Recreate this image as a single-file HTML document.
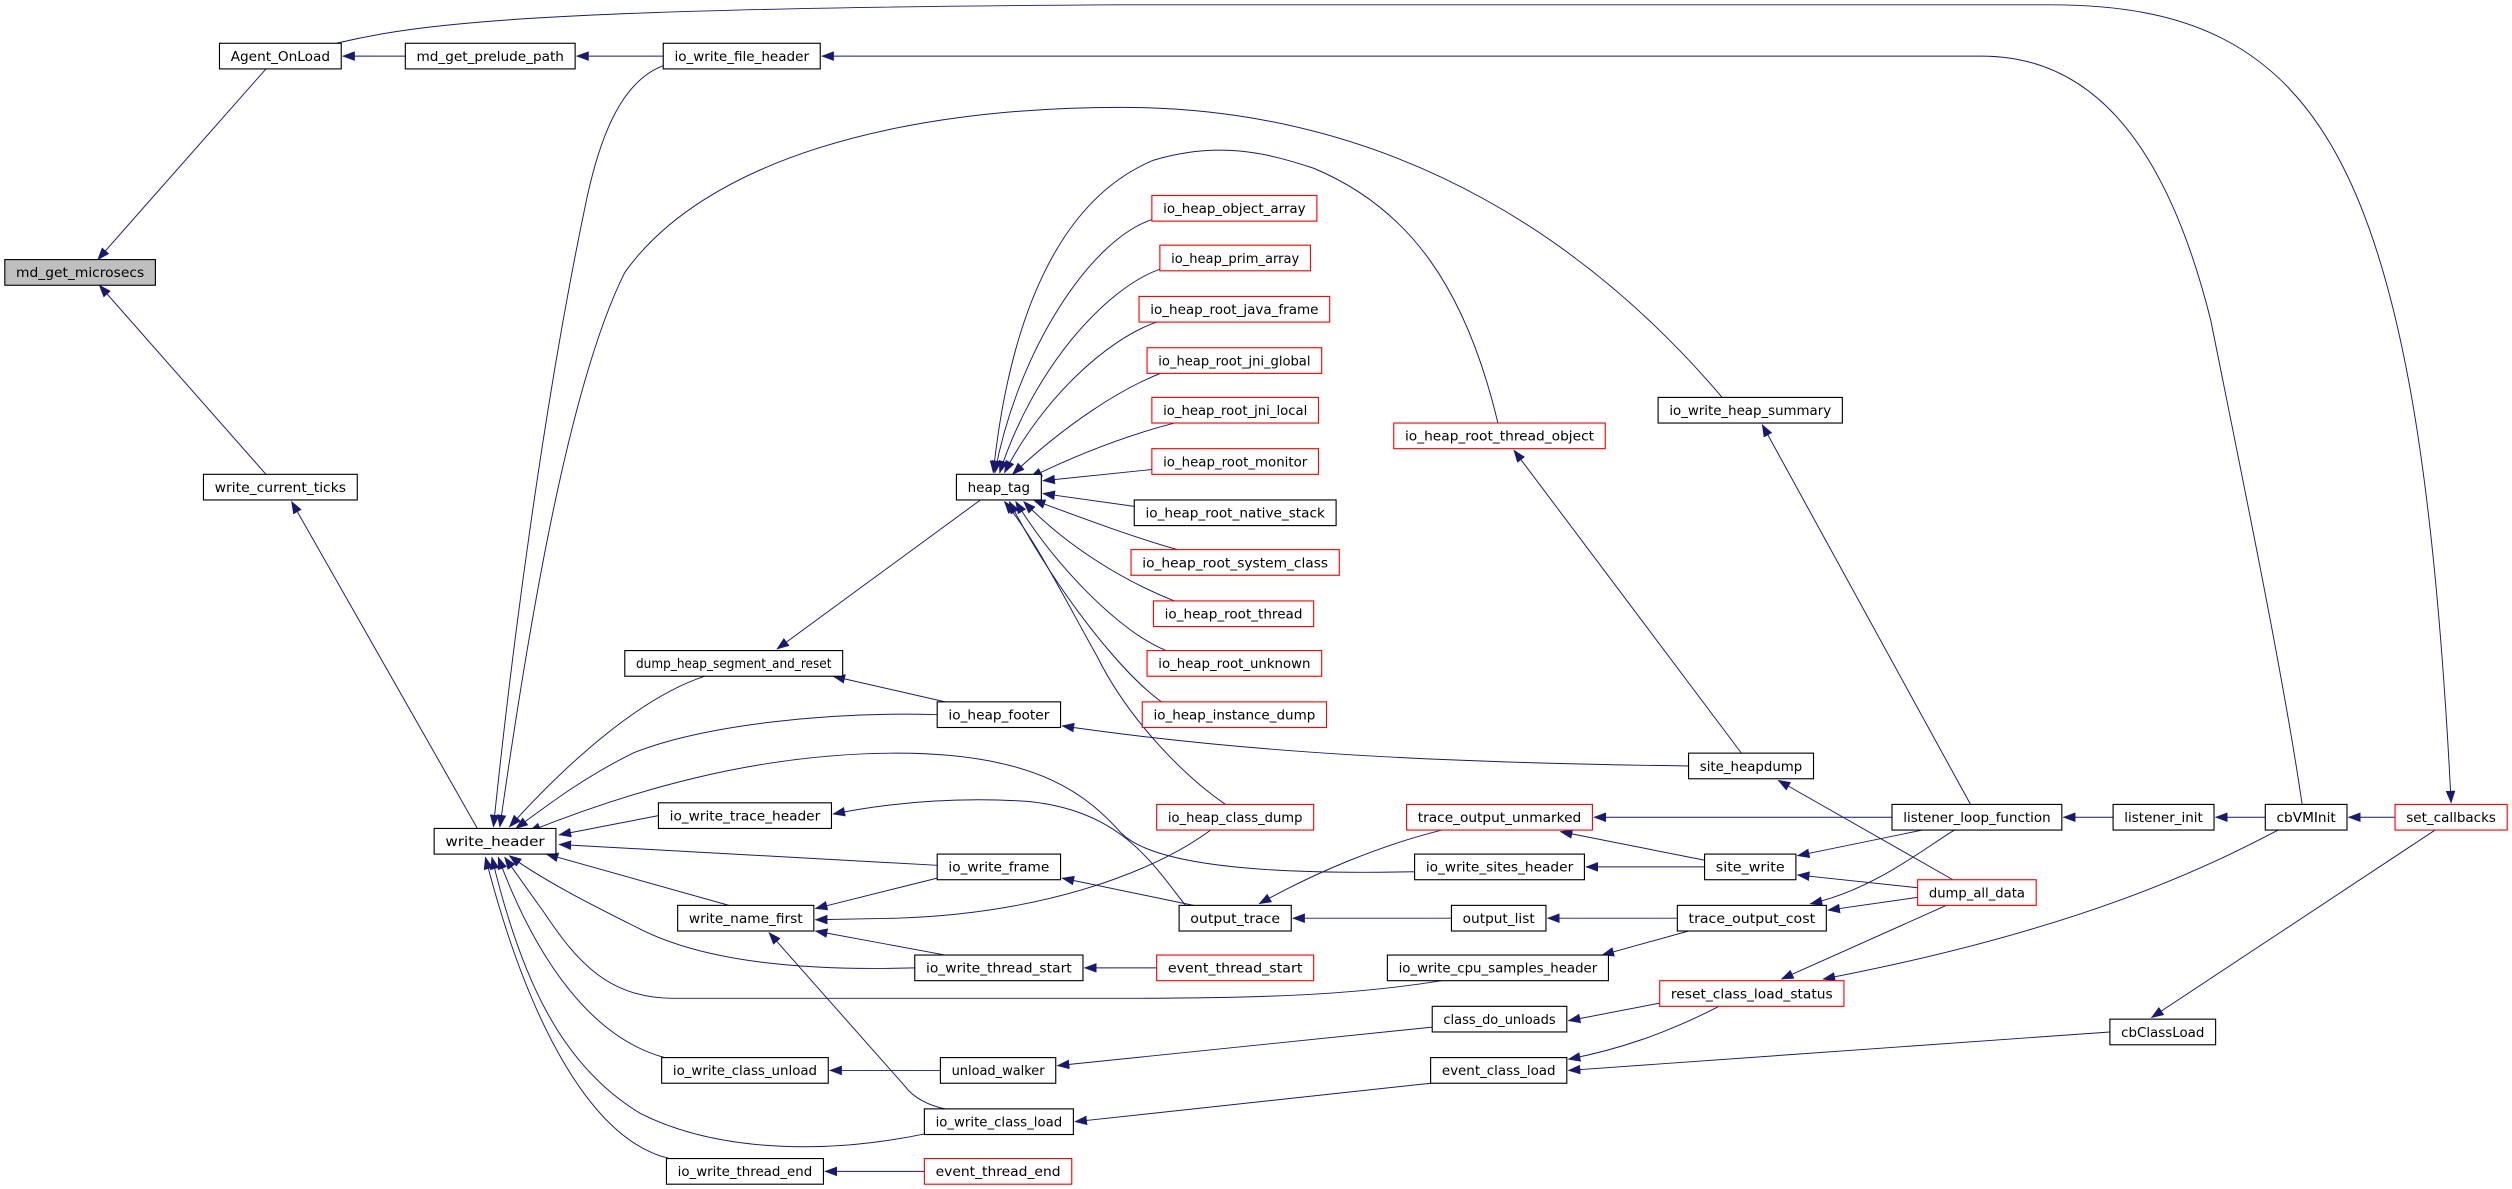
<!DOCTYPE html>
<html><head><meta charset="utf-8"><style>
html,body{margin:0;padding:0;background:#fff;}
svg{display:block;}
text{font-family:"DejaVu Sans","Liberation Sans",sans-serif;font-size:8.3px;text-anchor:middle;fill:#000;}
.n{fill:#fff;stroke:#000;stroke-width:0.7;}
.r{fill:#fff;stroke:#f00;stroke-width:0.7;}
.g{fill:#bfbfbf;stroke:#000;stroke-width:0.7;}
path.e{fill:none;stroke:#191970;stroke-width:0.6;marker-end:url(#a);}
</style></head><body>
<svg width="2512" height="1189" viewBox="0 0 1568 742" preserveAspectRatio="none" xmlns="http://www.w3.org/2000/svg">
<defs><marker id="a" markerUnits="userSpaceOnUse" markerWidth="8" markerHeight="6" refX="7.5" refY="3" orient="auto"><path d="M0,0 L8,3 L0,6 z" fill="#191970"/></marker></defs>

<!-- edges -->
<path class="e" d="M166,43 L61,162"/>
<path class="e" d="M166,296 L62,178"/>
<path class="e" d="M253,35 L214,35"/>
<path class="e" d="M414,35 L360,35"/>
<path class="e" d="M210,27 C260,15 330,5 700,3 L1280,3 C1450,3 1510,100 1530,501"/>
<path class="e" d="M1437,502 C1425,420 1400,300 1380,200 C1350,80 1300,35 1237,35 L513,35"/>
<path class="e" d="M414,41 C390,50 375,80 365,130 C340,250 320,400 308,516"/>
<path class="e" d="M1075,248 C1000,160 880,67 700,67 C560,67 440,100 390,170 C355,240 330,390 312,516"/>
<path class="e" d="M935,264 C915,180 880,130 820,105 C790,95 760,88 720,100 C660,125 630,200 620,295"/>
<path class="e" d="M719,137 C680,150 635,220 621,295"/>
<path class="e" d="M724,168 C690,180 645,230 624,295"/>
<path class="e" d="M722,201 C690,212 650,250 627,295"/>
<path class="e" d="M727,232 C700,242 665,265 632,296"/>
<path class="e" d="M733,264 C710,270 680,280 643,298"/>
<path class="e" d="M719,293 L651,300"/>
<path class="e" d="M708,316 L651,308"/>
<path class="e" d="M735,343 C710,336 680,325 645,312"/>
<path class="e" d="M733,375 C700,362 665,340 639,313"/>
<path class="e" d="M728,406 C700,395 660,355 634,313"/>
<path class="e" d="M725,438 C700,420 660,370 630,313"/>
<path class="e" d="M765,502 C740,485 705,450 685,410 C660,365 645,335 627,313"/>
<path class="e" d="M612,312 L485,405"/>
<path class="e" d="M590,438 L520,422"/>
<path class="e" d="M440,422 C400,435 355,475 318,516"/>
<path class="e" d="M585,446 C520,444 440,452 395,470 C365,485 345,500 322,517"/>
<path class="e" d="M883,544 C790,546 720,540 700,520 C680,498 650,470 560,470 C470,470 390,495 330,519"/>
<path class="e" d="M411,509 L349,521"/>
<path class="e" d="M585,540 L349,527"/>
<path class="e" d="M455,565 L341,533"/>
<path class="e" d="M571,604 C500,606 440,600 400,580 C370,565 340,550 318,534"/>
<path class="e" d="M900,612 C850,620 800,623 700,623 L420,623 C380,623 360,600 340,570 L315,535"/>
<path class="e" d="M415,660 C370,648 335,600 311,535"/>
<path class="e" d="M580,707 C520,720 450,720 400,695 C350,665 325,610 307,535"/>
<path class="e" d="M418,723 C370,712 330,640 303,535"/>
<path class="e" d="M298,517 L182,313"/>
<path class="e" d="M740,565 C720,540 700,505 640,500 C590,497 550,502 520,508"/>
<path class="e" d="M745,565 L663,548"/>
<path class="e" d="M585,548 L509,567"/>
<path class="e" d="M757,517 C720,545 650,570 560,573 L509,574"/>
<path class="e" d="M590,596 L509,581"/>
<path class="e" d="M590,692 C580,690 570,685 565,678 L480,582"/>
<path class="e" d="M722,604 L677,604"/>
<path class="e" d="M587,668 L518,668"/>
<path class="e" d="M893,676 L671,700"/>
<path class="e" d="M577,731 L515,731"/>
<path class="e" d="M894,641 L660,665"/>
<path class="e" d="M1054,478 C900,476 780,470 663,453"/>
<path class="e" d="M1087,470 L945,281"/>
<path class="e" d="M1230,502 L1100,265"/>
<path class="e" d="M1181,510 L995,510"/>
<path class="e" d="M900,518 C860,528 820,545 786,564"/>
<path class="e" d="M906,573 L807,573"/>
<path class="e" d="M1065,537 L974,519"/>
<path class="e" d="M1064,541 L990,541"/>
<path class="e" d="M1200,518 L1122,534"/>
<path class="e" d="M1197,554 L1122,546"/>
<path class="e" d="M1219,549 L1110,487"/>
<path class="e" d="M1220,518 C1200,530 1170,555 1130,564"/>
<path class="e" d="M1197,560 L1141,568"/>
<path class="e" d="M1047,573 L966,573"/>
<path class="e" d="M1054,581 L1000,596"/>
<path class="e" d="M1215,565 L1112,611"/>
<path class="e" d="M1422,518 C1380,540 1300,580 1138,611"/>
<path class="e" d="M1036,626 L979,637"/>
<path class="e" d="M1073,628 C1040,645 1010,655 979,661"/>
<path class="e" d="M1317,644 L979,668"/>
<path class="e" d="M1319,510 L1288,510"/>
<path class="e" d="M1414,510 L1383,510"/>
<path class="e" d="M1495,510 L1466,510"/>
<path class="e" d="M1520,518 L1343,635"/>

<!-- nodes -->
<rect class="g" x="3" y="162" width="94" height="16"/><text x="50" y="173" textLength="80" lengthAdjust="spacingAndGlyphs">md_get_microsecs</text>
<rect class="n" x="137" y="27" width="76" height="16"/><text x="175" y="38" textLength="62" lengthAdjust="spacingAndGlyphs">Agent_OnLoad</text>
<rect class="n" x="253" y="27" width="106" height="16"/><text x="306" y="38" textLength="92" lengthAdjust="spacingAndGlyphs">md_get_prelude_path</text>
<rect class="n" x="414" y="27" width="98" height="16"/><text x="463" y="38" textLength="84" lengthAdjust="spacingAndGlyphs">io_write_file_header</text>
<rect class="n" x="127" y="296" width="96" height="16"/><text x="175" y="307" textLength="82" lengthAdjust="spacingAndGlyphs">write_current_ticks</text>
<rect class="n" x="271" y="517" width="76" height="16"/><text x="309" y="528" textLength="62" lengthAdjust="spacingAndGlyphs">write_header</text>
<rect class="n" x="390" y="406" width="136" height="16"/><text x="458" y="417" textLength="122" lengthAdjust="spacingAndGlyphs">dump_heap_segment_and_reset</text>
<rect class="n" x="411" y="501" width="108" height="16"/><text x="465" y="512" textLength="94" lengthAdjust="spacingAndGlyphs">io_write_trace_header</text>
<rect class="n" x="423" y="565" width="85" height="16"/><text x="465.5" y="576" textLength="71" lengthAdjust="spacingAndGlyphs">write_name_first</text>
<rect class="n" x="413" y="660" width="104" height="16"/><text x="465" y="671" textLength="90" lengthAdjust="spacingAndGlyphs">io_write_class_unload</text>
<rect class="n" x="416" y="723" width="98" height="16"/><text x="465" y="734" textLength="84" lengthAdjust="spacingAndGlyphs">io_write_thread_end</text>
<rect class="n" x="597" y="296" width="53" height="16"/><text x="623.5" y="307" textLength="39" lengthAdjust="spacingAndGlyphs">heap_tag</text>
<rect class="n" x="585" y="438" width="77" height="16"/><text x="623.5" y="449" textLength="63" lengthAdjust="spacingAndGlyphs">io_heap_footer</text>
<rect class="n" x="585" y="533" width="77" height="16"/><text x="623.5" y="544" textLength="63" lengthAdjust="spacingAndGlyphs">io_write_frame</text>
<rect class="n" x="571" y="596" width="105" height="16"/><text x="623.5" y="607" textLength="91" lengthAdjust="spacingAndGlyphs">io_write_thread_start</text>
<rect class="n" x="587" y="660" width="72" height="16"/><text x="623" y="671" textLength="58" lengthAdjust="spacingAndGlyphs">unload_walker</text>
<rect class="n" x="577" y="692" width="93" height="16"/><text x="623.5" y="703" textLength="79" lengthAdjust="spacingAndGlyphs">io_write_class_load</text>
<rect class="r" x="577" y="723" width="92" height="16"/><text x="623" y="734" textLength="78" lengthAdjust="spacingAndGlyphs">event_thread_end</text>
<rect class="r" x="719" y="122" width="103" height="16"/><text x="770.5" y="133" textLength="89" lengthAdjust="spacingAndGlyphs">io_heap_object_array</text>
<rect class="r" x="724" y="153" width="94" height="16"/><text x="771" y="164" textLength="80" lengthAdjust="spacingAndGlyphs">io_heap_prim_array</text>
<rect class="r" x="711" y="185" width="119" height="16"/><text x="770.5" y="196" textLength="105" lengthAdjust="spacingAndGlyphs">io_heap_root_java_frame</text>
<rect class="r" x="716" y="217" width="109" height="16"/><text x="770.5" y="228" textLength="95" lengthAdjust="spacingAndGlyphs">io_heap_root_jni_global</text>
<rect class="r" x="719" y="248" width="104" height="16"/><text x="771" y="259" textLength="90" lengthAdjust="spacingAndGlyphs">io_heap_root_jni_local</text>
<rect class="r" x="719" y="280" width="104" height="16"/><text x="771" y="291" textLength="90" lengthAdjust="spacingAndGlyphs">io_heap_root_monitor</text>
<rect class="n" x="708" y="312" width="126" height="16"/><text x="771" y="323" textLength="112" lengthAdjust="spacingAndGlyphs">io_heap_root_native_stack</text>
<rect class="r" x="706" y="343" width="130" height="16"/><text x="771" y="354" textLength="116" lengthAdjust="spacingAndGlyphs">io_heap_root_system_class</text>
<rect class="r" x="720" y="375" width="100" height="16"/><text x="770" y="386" textLength="86" lengthAdjust="spacingAndGlyphs">io_heap_root_thread</text>
<rect class="r" x="716" y="406" width="109" height="16"/><text x="770.5" y="417" textLength="95" lengthAdjust="spacingAndGlyphs">io_heap_root_unknown</text>
<rect class="r" x="713" y="438" width="115" height="16"/><text x="770.5" y="449" textLength="101" lengthAdjust="spacingAndGlyphs">io_heap_instance_dump</text>
<rect class="r" x="722" y="502" width="98" height="16"/><text x="771" y="513" textLength="84" lengthAdjust="spacingAndGlyphs">io_heap_class_dump</text>
<rect class="n" x="736" y="565" width="70" height="16"/><text x="771" y="576" textLength="56" lengthAdjust="spacingAndGlyphs">output_trace</text>
<rect class="r" x="722" y="596" width="98" height="16"/><text x="771" y="607" textLength="84" lengthAdjust="spacingAndGlyphs">event_thread_start</text>
<rect class="r" x="870" y="264" width="132" height="16"/><text x="936" y="275" textLength="118" lengthAdjust="spacingAndGlyphs">io_heap_root_thread_object</text>
<rect class="r" x="878" y="502" width="116" height="16"/><text x="936" y="513" textLength="102" lengthAdjust="spacingAndGlyphs">trace_output_unmarked</text>
<rect class="n" x="883" y="533" width="106" height="16"/><text x="936" y="544" textLength="92" lengthAdjust="spacingAndGlyphs">io_write_sites_header</text>
<rect class="n" x="906" y="565" width="59" height="16"/><text x="935.5" y="576" textLength="45" lengthAdjust="spacingAndGlyphs">output_list</text>
<rect class="n" x="866" y="596" width="138" height="16"/><text x="935" y="607" textLength="124" lengthAdjust="spacingAndGlyphs">io_write_cpu_samples_header</text>
<rect class="n" x="894" y="628" width="84" height="16"/><text x="936" y="639" textLength="70" lengthAdjust="spacingAndGlyphs">class_do_unloads</text>
<rect class="n" x="893" y="660" width="85" height="16"/><text x="935.5" y="671" textLength="71" lengthAdjust="spacingAndGlyphs">event_class_load</text>
<rect class="n" x="1035" y="248" width="115" height="16"/><text x="1092.5" y="259" textLength="101" lengthAdjust="spacingAndGlyphs">io_write_heap_summary</text>
<rect class="n" x="1054" y="470" width="78" height="16"/><text x="1093" y="481" textLength="64" lengthAdjust="spacingAndGlyphs">site_heapdump</text>
<rect class="n" x="1064" y="533" width="57" height="16"/><text x="1092.5" y="544" textLength="43" lengthAdjust="spacingAndGlyphs">site_write</text>
<rect class="n" x="1047" y="565" width="93" height="16"/><text x="1093.5" y="576" textLength="79" lengthAdjust="spacingAndGlyphs">trace_output_cost</text>
<rect class="r" x="1036" y="612" width="115" height="16"/><text x="1093.5" y="623" textLength="101" lengthAdjust="spacingAndGlyphs">reset_class_load_status</text>
<rect class="n" x="1181" y="502" width="106" height="16"/><text x="1234" y="513" textLength="92" lengthAdjust="spacingAndGlyphs">listener_loop_function</text>
<rect class="r" x="1197" y="549" width="74" height="16"/><text x="1234" y="560" textLength="60" lengthAdjust="spacingAndGlyphs">dump_all_data</text>
<rect class="n" x="1319" y="502" width="63" height="16"/><text x="1350.5" y="513" textLength="49" lengthAdjust="spacingAndGlyphs">listener_init</text>
<rect class="n" x="1317" y="636" width="66" height="16"/><text x="1350" y="647" textLength="52" lengthAdjust="spacingAndGlyphs">cbClassLoad</text>
<rect class="n" x="1414" y="502" width="51" height="16"/><text x="1439.5" y="513" textLength="37" lengthAdjust="spacingAndGlyphs">cbVMInit</text>
<rect class="r" x="1495" y="502" width="70" height="16"/><text x="1530" y="513" textLength="56" lengthAdjust="spacingAndGlyphs">set_callbacks</text>
</svg>
</body></html>
